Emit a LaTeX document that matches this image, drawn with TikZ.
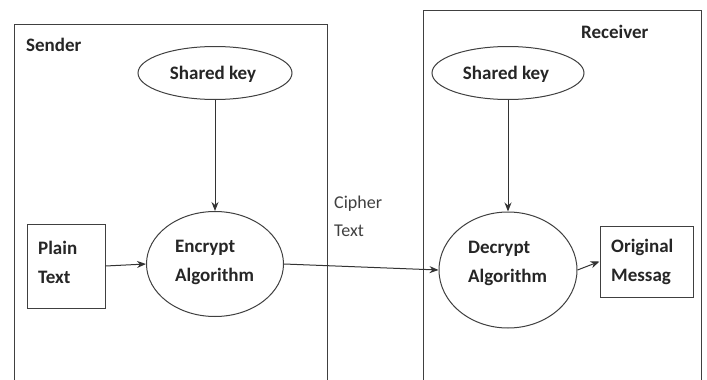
\documentclass[tikz,border=0pt]{standalone}
\usepackage{fontspec}
\setmainfont{Carlito}
\usetikzlibrary{shapes.geometric,arrows.meta}
\tikzset{
  frame/.style={draw=black!75, line width=1pt},
  oval/.style={ellipse, draw=black!75, line width=1pt, inner sep=0pt},
  box/.style={rectangle, draw=black!75, line width=1pt, inner sep=0pt},
  txt/.style={font=\fontsize{19}{29}\selectfont\bfseries, text=black!85, align=left, inner sep=0pt},
  conn/.style={draw=black!80, line width=1pt, -{Stealth[length=9pt,width=7pt]}},
}
\begin{document}
\begin{tikzpicture}[x=1pt,y=-1pt]
\useasboundingbox[fill=white] (0,0) rectangle (707,380);
% frames open at the bottom
\draw[frame] (14,380) -- (14,24) -- (327,24) -- (327,380);
\draw[frame] (423,380) -- (423,10) -- (701,10) -- (701,380);
\node[txt, anchor=west] (sender) at (26,45) {Sender};
\node[txt, anchor=west] (receiver) at (581,32) {Receiver};
% sender side
\node[oval, minimum width=154, minimum height=53] (key1) at (215,73) {};
\node[txt] (key1t) at (213,74) {Shared key};
\node[oval, minimum width=137, minimum height=105] (enc) at (215,264) {};
\node[txt, anchor=west] (enct) at (175,262) {Encrypt\\Algorithm};
\node[box, minimum width=78, minimum height=84] (plain) at (66,266) {};
\node[txt, anchor=west] (plaint) at (38,262) {Plain\\Text};
% receiver side
\node[oval, minimum width=152, minimum height=53] (key2) at (508,73) {};
\node[txt] (key2t) at (506,74) {Shared key};
\node[oval, minimum width=138, minimum height=116] (dec) at (508,270) {};
\node[txt, anchor=west] (dect) at (468,263) {Decrypt\\Algorithm};
\node[box, minimum width=93, minimum height=71] (orig) at (646.5,261.5) {};
\node[txt, anchor=west] (origt) at (611,262) {Original\\Messag};
% cipher text label
\node[txt, anchor=west, font=\fontsize{18}{28}\selectfont, text=black!75] (cipher) at (334,216) {Cipher\\Text};
% connectors
\draw[conn] (key1.south) -- (enc.north);
\draw[conn] (key2.south) -- (dec.north);
\draw[conn] (plain.east) -- (enc.west);
\draw[conn] (enc.east) -- (dec.west);
\draw[conn] (dec.east) -- (orig.west);
\end{tikzpicture}
\end{document}
